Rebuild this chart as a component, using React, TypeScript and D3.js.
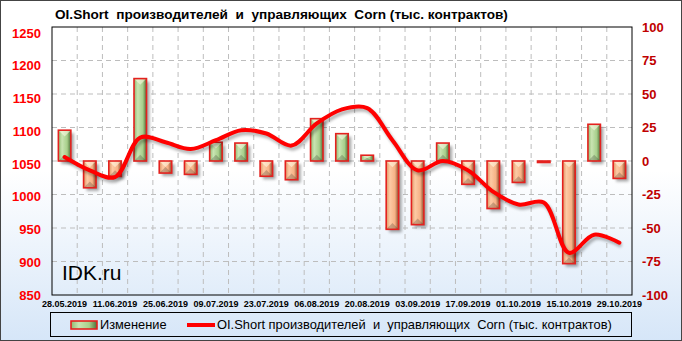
import React from "react";
import * as d3 from "d3";

const dates = [
  "28.05.2019", "04.06.2019", "11.06.2019", "18.06.2019", "25.06.2019", "02.07.2019",
  "09.07.2019", "16.07.2019", "23.07.2019", "30.07.2019", "06.08.2019", "13.08.2019",
  "20.08.2019", "27.08.2019", "03.09.2019", "10.09.2019", "17.09.2019", "24.09.2019",
  "01.10.2019", "08.10.2019", "15.10.2019", "22.10.2019", "29.10.2019",
];
const change = [
  23, -20, -11.5, 61.5, -9, -10, 14, 13.4, -11.4, -14, 31.6, 20.4,
  4.3, -51, -47.5, 13.4, -17.4, -35.5, -16, -0.5, -76.6, 27.4, -13,
];
const oiShort = [
  1056, 1036, 1026, 1085, 1078, 1068, 1081, 1096, 1091, 1073, 1106, 1127,
  1129, 1081, 1036, 1050, 1036, 1004, 985, 988, 913, 940, 928,
];
const leftTicks = [850, 900, 950, 1000, 1050, 1100, 1150, 1200, 1250];
const rightTicks = [-100, -75, -50, -25, 0, 25, 50, 75, 100];
const titleText = "OI.Short  производителей  и  управляющих  Corn (тыс. контрактов)";
const legendBar = "Изменение";
const legendLine = "OI.Short производителей  и  управляющих  Corn (тыс. контрактов)";

const W = 682, H = 341;
const P = { l: 52, r: 632, t: 27, b: 295 };

export default function App() {
  const x = d3.scaleBand<number>().domain(d3.range(dates.length)).range([P.l, P.r]).paddingInner(0.5).paddingOuter(0.25);
  const step = x.step();
  const cx = (i: number) => P.l + step * (i + 0.5);
  const yL = d3.scaleLinear().domain([850, 1250]).range([P.b, P.t]);
  const yLlab = d3.scaleLinear().domain([850, 1250]).range([P.b, P.t + 6]);
  const yR = d3.scaleLinear().domain([-100, 100]).range([P.b, P.t]);
  const bw = 12.5;

  const line = d3.line<number>().x((_, i) => cx(i)).y((d) => yL(d)).curve(d3.curveCatmullRom.alpha(0.5));
  const linePath = line(oiShort) || "";

  const font = "'Liberation Sans', Arial, sans-serif";

  const bar = (v: number, i: number) => {
    const pos = v >= 0;
    const x0 = cx(i) - bw / 2;
    const ya = yR(Math.max(v, 0));
    const yb = yR(Math.min(v, 0));
    let h = yb - ya;
    if (h < 1.5) h = 1.5;
    const tri = Math.min(bw / 2, h / 2);
    return (
      <g key={i}>
        <rect x={x0 + 3} y={ya + 3} width={bw} height={h} fill="#000" opacity={0.35} filter="url(#blur)" />
        <rect x={x0} y={ya} width={bw} height={h} fill={pos ? "url(#gGreen)" : "url(#gOrange)"} />
        {h > 4 && (
          <>
            <polygon points={`${x0},${ya} ${x0 + bw},${ya} ${x0 + bw / 2},${ya + tri}`} fill="#fffbe8" opacity={0.55} />
            <polygon points={`${x0},${ya + h} ${x0 + bw},${ya + h} ${x0 + bw / 2},${ya + h - tri}`} fill="#000" opacity={0.2} />
          </>
        )}
        <rect x={x0} y={ya} width={bw} height={h} fill="none" stroke="#e4211e" strokeWidth={1.6} />
      </g>
    );
  };

  return (
    <svg width={W} height={H} style={{ position: "absolute", left: 0, top: 0 }} fontFamily={font}>
      <defs>
        <linearGradient id="bg" x1="0" y1="0" x2="0" y2="1">
          <stop offset="0" stopColor="#ffffff" />
          <stop offset="0.5" stopColor="#ffffff" />
          <stop offset="1" stopColor="#d6e6f8" />
        </linearGradient>
        <linearGradient id="gGreen" x1="0" y1="0" x2="1" y2="0">
          <stop offset="0" stopColor="#8fbb72" />
          <stop offset="0.3" stopColor="#c9e4b2" />
          <stop offset="0.7" stopColor="#a7cf8b" />
          <stop offset="1" stopColor="#4f6e38" />
        </linearGradient>
        <linearGradient id="gOrange" x1="0" y1="0" x2="1" y2="0">
          <stop offset="0" stopColor="#dd9463" />
          <stop offset="0.3" stopColor="#fdcaa4" />
          <stop offset="0.7" stopColor="#f6b286" />
          <stop offset="1" stopColor="#8a4b2c" />
        </linearGradient>
        <filter id="blur" x="-50%" y="-50%" width="200%" height="200%">
          <feGaussianBlur stdDeviation="1.8" />
        </filter>
      </defs>
      <rect x={0.5} y={0.5} width={W - 1} height={H - 1} fill="url(#bg)" stroke="#444" />

      <text x={55} y={19} fontSize={13.6} fontWeight="bold" fill="#000" style={{ whiteSpace: "pre" }}>{titleText}</text>

      {/* grid */}
      {leftTicks.slice(1, -1).map((t) => (
        <line key={"h" + t} x1={P.l} x2={P.r} y1={yL(t)} y2={yL(t)} stroke="#bdbdbd" strokeDasharray="5,4" />
      ))}
      {d3.range(1, dates.length).map((i) => (
        <line key={"v" + i} x1={P.l + step * i} x2={P.l + step * i} y1={P.t} y2={P.b} stroke="#bdbdbd" strokeDasharray="5,4" />
      ))}

      <text x={62} y={280} fontSize={21} fill="#000">IDK.ru</text>

      {change.map(bar)}

      <path d={linePath} transform="translate(2,3)" fill="none" stroke="#000" strokeWidth={4} opacity={0.3} filter="url(#blur)" />
      <path d={linePath} fill="none" stroke="#ff0000" strokeWidth={4} strokeLinejoin="round" strokeLinecap="round" />

      <rect x={P.l} y={P.t} width={P.r - P.l} height={P.b - P.t} fill="none" stroke="#000" strokeWidth={1} />

      {leftTicks.map((t) => (
        <text key={"l" + t} x={41} y={yLlab(t)} dy="0.35em" textAnchor="end" fontSize={13} fontWeight="bold" fill="#ff0000">{t}</text>
      ))}
      {rightTicks.map((t) => (
        <text key={"r" + t} x={642} y={yR(t)} dy="0.35em" textAnchor="start" fontSize={13} fontWeight="bold" fill="#c00000">{t}</text>
      ))}
      {dates.map((d, i) => i % 2 === 0 ? (
        <text key={"d" + i} x={cx(i)} y={306.5} textAnchor="middle" fontSize={9} fontWeight="bold" fill="#000">{d}</text>
      ) : null)}

      {/* legend */}
      <rect x={50.5} y={312.5} width={581} height={24} fill="none" stroke="#000" />
      <rect x={71} y={321} width={26} height={8} fill="url(#gGreen)" stroke="#e4211e" strokeWidth={1.6} />
      <text x={100} y={329} fontSize={12.8} fill="#000">{legendBar}</text>
      <line x1={187} x2={215} y1={325} y2={325} stroke="#ff0000" strokeWidth={4} />
      <text x={217} y={329} fontSize={12.9} fill="#000" style={{ whiteSpace: "pre" }}>{legendLine}</text>
    </svg>
  );
}
